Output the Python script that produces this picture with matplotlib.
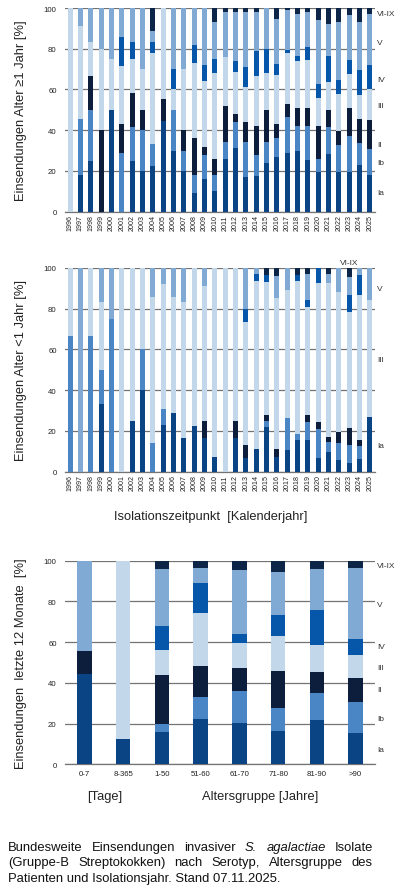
import matplotlib
matplotlib.use('Agg')
import matplotlib.pyplot as plt
import numpy as np

plt.rcParams['font.family'] = ['Liberation Sans', 'DejaVu Sans']

serotypes = ['Ia', 'Ib', 'II', 'III', 'IV', 'V', 'VI-IX']
colors = ['#0a4485', '#4a86c5', '#0c1e3c', '#c3d7eb', '#0657aa', '#80a9d3', '#0d2647']

years = ['1996', '1997', '1998', '1999', '2000', '2001', '2002', '2003', '2004', '2005',
         '2006', '2007', '2008', '2009', '2010', '2011', '2012', '2013', '2014', '2015',
         '2016', '2017', '2018', '2019', '2020', '2021', '2022', '2023', '2024', '2025']

# Panel 1: age >= 1 year (%)
adult_Ia = [0, 18.2, 25, 0, 50, 0, 25, 20, 22.2, 44.4, 30, 20, 9.1, 16, 10, 26, 31.5, 17.2, 17.3, 24,
            27, 29, 30, 25.4, 19.6, 28.3, 19.6, 19.6, 22.9, 18]
adult_Ib = [0, 27.3, 25, 0, 0, 28.6, 16.7, 20, 11.1, 0, 20, 10, 9.1, 12, 8, 8, 12.5, 16.8, 10.7, 10,
            9, 17.7, 11.9, 16.8, 6.3, 13.4, 13.1, 17.7, 10.7, 13]
adult_II = [0, 0, 16.7, 40, 0, 14.3, 16.7, 10, 0, 11.1, 0, 10, 18.2, 4, 8, 18, 4, 9.9, 14, 16,
            7, 6.4, 9, 8.7, 16.3, 8.4, 7.1, 13.6, 11.9, 14]
adult_III = [100, 45.5, 16.6, 40, 25, 28.6, 16.6, 20, 44.4, 44.5, 10, 30, 36.4, 32, 42, 24, 20.5, 17.1, 24.4, 18,
             24, 25, 23.2, 23.6, 13.8, 13.4, 17.8, 16.5, 11.8, 15]
adult_IV = [0, 0, 0, 0, 0, 14.3, 8.3, 0, 5.6, 0, 10, 0, 9.1, 8, 7, 0, 5.5, 9.9, 12.6, 12,
            5.5, 1.3, 2.2, 6.5, 6.8, 13.1, 7, 7.1, 12.4, 12]
adult_V = [0, 9.1, 16.7, 20, 25, 14.2, 16.7, 30, 5.6, 0, 30, 30, 18.1, 28, 18, 22, 24, 27, 19, 20,
           22.1, 19.6, 20.7, 16.9, 31.5, 15.5, 28.4, 22.1, 23.6, 25]
adult_VI = [0, 0, 0, 0, 0, 0, 0, 0, 11.1, 0, 0, 0, 0, 0, 7, 2, 2, 2.1, 2, 0,
            5.4, 1, 3, 2.1, 5.7, 7.9, 7, 3.4, 6.7, 3]

# Panel 2: age < 1 year (%)
infant_Ia = [0, 0, 0, 33.3, 0, 0, 25, 40, 0, 23.1, 28.6, 16.7, 22.2, 16.7, 7.1, 0, 16.7, 6.7, 11.1, 21.8,
             7, 10.5, 15.5, 15.5, 6.5, 9.5, 5.6, 4.1, 6.2, 26.7]
infant_Ib = [66.7, 0, 66.7, 16.7, 75, 0, 0, 20, 14.3, 7.7, 0, 0, 0, 0, 0, 0, 0, 0, 0, 2.9,
             0, 15.7, 3, 9, 14.5, 4.9, 8.5, 8.9, 6.4, 0]
infant_II = [0, 0, 0, 0, 0, 0, 0, 0, 0, 0, 0, 0, 0, 8.3, 0, 0, 8.3, 6.6, 0, 3.1,
             4, 0, 0, 3.3, 3.5, 2.5, 5.5, 8.4, 3.1, 0]
infant_III = [33.3, 0, 33.3, 33.3, 0, 100, 75, 40, 71.4, 61.5, 57.1, 66.6, 77.8, 66.3, 92.9, 100, 75, 60, 82.7, 65.5,
              74.2, 63, 75, 53.2, 68, 75.6, 68.8, 56.8, 71, 57.8]
infant_IV = [0, 0, 0, 0, 0, 0, 0, 0, 0, 0, 0, 0, 0, 0, 0, 0, 0, 6.7, 3.2, 3.3,
             0, 0, 3.2, 3.3, 7.5, 0, 0, 8.7, 9.9, 0]
infant_V = [0, 100, 0, 16.7, 25, 0, 0, 0, 14.3, 7.7, 14.3, 16.7, 0, 8.7, 0, 0, 0, 20, 3, 0,
            11, 10.8, 0, 12.7, 0, 4.5, 11.6, 8.5, 3.4, 15.5]
infant_VI = [0, 0, 0, 0, 0, 0, 0, 0, 0, 0, 0, 0, 0, 0, 0, 0, 0, 0, 0, 3.4,
             3.8, 0, 3.3, 3, 0, 3, 0, 4.6, 0, 0]

# Panel 3: last 12 months by age group (%)
age_groups = ['0-7', '8-365', '1-50', '51-60', '61-70', '71-80', '81-90', '>90']
recent_Ia = [44.4, 12.5, 16, 22.1, 20.3, 16.5, 21.8, 15.2]
recent_Ib = [0, 0, 4, 11.1, 15.7, 11.3, 13.1, 15.6]
recent_II = [11.1, 0, 24, 14.9, 11.1, 18.2, 10.6, 11.4]
recent_III = [0, 87.5, 12, 26, 12.3, 17.2, 13.1, 11.5]
recent_IV = [0, 0, 12, 14.8, 4.6, 10.1, 17.3, 7.8]
recent_V = [44.5, 0, 28, 7.3, 31.4, 21.3, 20, 34.7]
recent_VI = [0, 0, 4, 3.8, 4.6, 5.4, 4.1, 3.8]

yticks = [0, 20, 40, 60, 80, 100]

W, H = 400, 895
fig = plt.figure(figsize=(W / 100, H / 100), dpi=100)
LABEL_FS = 9.3
TXT = '#222222'


def axes_px(left, top, right, bottom):
    return fig.add_axes([left / W, 1 - bottom / H, (right - left) / W, (bottom - top) / H])


def draw_stack(ax, cats, series, width):
    x = np.arange(len(cats))
    bottom = np.zeros(len(cats))
    for vals, col in zip(series, colors):
        v = np.array(vals, dtype=float)
        ax.bar(x, v, width, bottom=bottom, color=col, linewidth=0, zorder=3)
        bottom += v
    ax.set_xlim(-0.5, len(cats) - 0.5)
    ax.set_ylim(0, 100)
    ax.set_yticks(yticks)
    ax.yaxis.grid(True, color='#737373', linewidth=0.9, zorder=0)
    ax.set_axisbelow(True)
    for s in ['left', 'right', 'top']:
        ax.spines[s].set_visible(False)
    ax.spines['bottom'].set_color('#737373')
    ax.spines['bottom'].set_linewidth(0.9)
    ax.tick_params(axis='both', length=0, labelsize=5.6, colors=TXT)
    ax.set_xticks(x)
    return x


def right_labels(ax, labels, ypos):
    tr = ax.get_yaxis_transform()
    for lab, y in zip(labels, ypos):
        ax.text(1.006, y, lab, transform=tr, fontsize=6, color='#333333',
                va='center', ha='left', clip_on=False)


# ---- Panel 1
ax1 = axes_px(65, 9, 375, 212.7)
draw_stack(ax1, years, [adult_Ia, adult_Ib, adult_II, adult_III, adult_IV, adult_V, adult_VI], 0.5)
ax1.set_xticklabels(years, rotation=90, fontsize=5.1)
ax1.tick_params(axis='x', pad=2)
ax1.tick_params(axis='y', pad=6)
ax1.set_ylabel('Einsendungen Alter \u22651 Jahr [%]', fontsize=LABEL_FS, color=TXT)
ax1.yaxis.set_label_coords(-0.123, 0.5)
right_labels(ax1, serotypes, [9.5, 24.3, 32.8, 51.9, 64.7, 83.2, 97.5])

# ---- Panel 2
ax2 = axes_px(65, 269, 375, 472.7)
draw_stack(ax2, years, [infant_Ia, infant_Ib, infant_II, infant_III, infant_IV, infant_V, infant_VI], 0.5)
ax2.set_xticklabels(years, rotation=90, fontsize=5.1)
ax2.tick_params(axis='x', pad=2)
ax2.tick_params(axis='y', pad=6)
ax2.set_ylabel('Einsendungen Alter <1 Jahr [%]', fontsize=LABEL_FS, color=TXT)
ax2.yaxis.set_label_coords(-0.123, 0.5)
right_labels(ax2, ['Ia', 'III', 'V'], [12.8, 55, 90])
ax2.text(27.0, 102.6, 'VI-IX', fontsize=6, color='#333333', ha='center', va='center', clip_on=False)
fig.text(211 / W, 1 - 517 / H, 'Isolationszeitpunkt  [Kalenderjahr]', fontsize=LABEL_FS,
         color=TXT, ha='center', va='center')

# ---- Panel 3
ax3 = axes_px(65, 561.7, 375, 765.3)
draw_stack(ax3, age_groups, [recent_Ia, recent_Ib, recent_II, recent_III, recent_IV, recent_V, recent_VI], 0.38)
ax3.set_xticklabels(age_groups, fontsize=5.6)
ax3.tick_params(axis='x', pad=4)
ax3.tick_params(axis='y', pad=6)
ax3.set_ylabel('Einsendungen  letzte 12 Monate  [%]', fontsize=LABEL_FS, color=TXT)
ax3.yaxis.set_label_coords(-0.123, 0.5)
right_labels(ax3, serotypes, [7.2, 22.6, 36.6, 47.6, 58, 78.7, 97.5])
fig.text(104.5 / W, 1 - 797 / H, '[Tage]', fontsize=LABEL_FS, color=TXT, ha='center', va='center')
fig.text(260 / W, 1 - 797 / H, 'Altersgruppe [Jahre]', fontsize=LABEL_FS, color=TXT,
         ha='center', va='center')

# ---- Caption (justified)
cap_lines = [
    [('Bundesweite', 'normal'), ('Einsendungen', 'normal'), ('invasiver', 'normal'),
     ('S.', 'italic'), ('agalactiae', 'italic'), ('Isolate', 'normal')],
    [('(Gruppe-B', 'normal'), ('Streptokokken)', 'normal'), ('nach', 'normal'),
     ('Serotyp,', 'normal'), ('Altersgruppe', 'normal'), ('des', 'normal')],
    [('Patienten und Isolationsjahr. Stand 07.11.2025.', 'normal')],
]
cap_y = [847.7, 863.3, 878.7]
cap_left, cap_right = 8.3, 373.0
cap_fs = 9.4
renderer = fig.canvas.get_renderer()
for i, (words, ypx) in enumerate(zip(cap_lines, cap_y)):
    objs = []
    for w, style in words:
        t = fig.text(0, 1 - ypx / H, w, fontsize=cap_fs, style=style, color='#111111',
                     ha='left', va='center')
        objs.append(t)
    widths = [o.get_window_extent(renderer).width for o in objs]
    if len(objs) > 1 and i < len(cap_lines) - 1:
        gap = (cap_right - cap_left - sum(widths)) / (len(objs) - 1)
    else:
        gap = 0
    x = cap_left
    for o, w in zip(objs, widths):
        o.set_x(x / W)
        x += w + gap

fig.savefig('out.png', dpi=100, facecolor='white')
